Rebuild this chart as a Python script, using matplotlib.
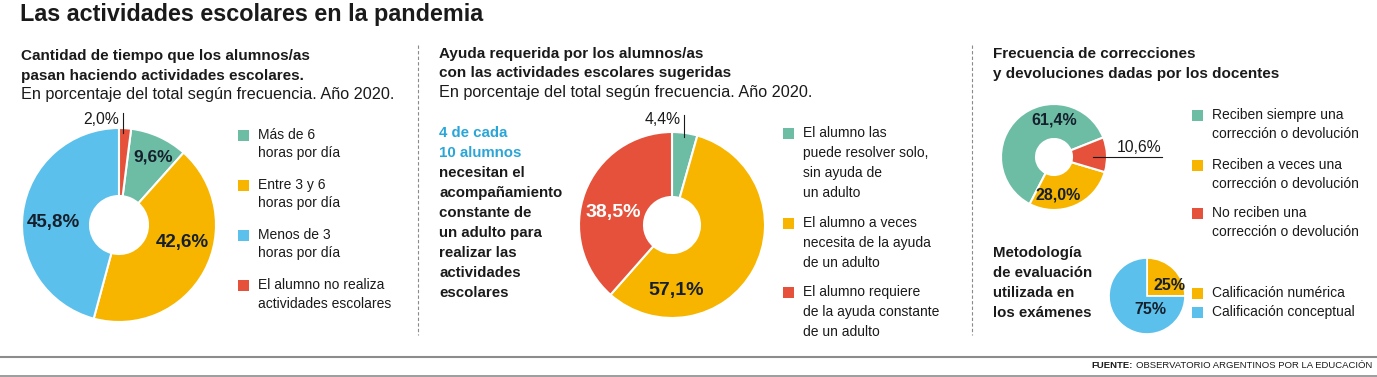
import matplotlib
matplotlib.use("Agg")
import matplotlib.pyplot as plt
from matplotlib.patches import Rectangle

W, H = 1377, 377

# colours
TEAL = "#6dbda5"
YELLOW = "#f7b500"
BLUE = "#5bc0eb"
RED = "#e5513a"
INK = "#1a1a1a"
DARK = "#16202c"

# chart 1: tiempo (legend order)
tiempo_labels = ["Más de 6\nhoras por día", "Entre 3 y 6\nhoras por día",
                 "Menos de 3\nhoras por día", "El alumno no realiza\nactividades escolares"]
tiempo_values = [9.6, 42.6, 45.8, 2.0]
tiempo_colors = [TEAL, YELLOW, BLUE, RED]

# chart 2: ayuda
ayuda_labels = ["El alumno las\npuede resolver solo,\nsin ayuda de\nun adulto",
                "El alumno a veces\nnecesita de la ayuda\nde un adulto",
                "El alumno requiere\nde la ayuda constante\nde un adulto"]
ayuda_values = [4.4, 57.1, 38.5]
ayuda_colors = [TEAL, YELLOW, RED]

# chart 3: correcciones
correc_labels = ["Reciben siempre una\ncorrección o devolución",
                 "Reciben a veces una\ncorrección o devolución",
                 "No reciben una\ncorrección o devolución"]
correc_values = [61.4, 28.0, 10.6]
correc_colors = [TEAL, YELLOW, RED]

# chart 4: metodologia
metodo_labels = ["Calificación numérica", "Calificación conceptual"]
metodo_values = [25, 75]
metodo_colors = [YELLOW, BLUE]

BOLD = "Liberation Sans"
REG = "Liberation Sans"


def Y(y):
    return H - y


def pct(v, dec=True):
    if dec:
        return ("%.1f%%" % v).replace(".", ",")
    return "%d%%" % v


fig = plt.figure(figsize=(W / 100, H / 100), dpi=100)
ax = fig.add_axes([0, 0, 1, 1])

# title
ax.text(20, Y(14), "Las actividades escolares en la pandemia", fontsize=16.8,
        fontweight="bold", family=BOLD, color=INK, va="center")


def header(x, y, bold_lines, sub=None, step=20):
    for i, l in enumerate(bold_lines):
        ax.text(x, Y(y + i * step), l, fontsize=11, fontweight="bold",
                family=BOLD, color=INK, va="center")
    if sub:
        ax.text(x, Y(y + len(bold_lines) * step - 1), sub, fontsize=11.7,
                family=REG, color=INK, va="center")


def legend(x, ys, labels, colors, step=18.5):
    for y0, lab, c in zip(ys, labels, colors):
        ax.add_patch(Rectangle((x, Y(y0) - 5.5), 11, 11, color=c, lw=0))
        for k, line in enumerate(lab.split("\n")):
            ax.text(x + 20, Y(y0 + k * step), line, fontsize=10,
                    family=REG, color=INK, va="center")


sub = "En porcentaje del total según frecuencia. Año 2020."

# ---- chart 1
header(21, 56, ["Cantidad de tiempo que los alumnos/as",
                "pasan haciendo actividades escolares."], sub)
ax.pie(tiempo_values, colors=tiempo_colors, center=(119, Y(225)), radius=97,
       startangle=90 - tiempo_values[3] * 3.6, counterclock=False,
       wedgeprops=dict(width=68, edgecolor="white", linewidth=1.5))
pos1 = [(153, 157), (182, 243), (53, 222)]
for (px, py), v in zip(pos1, tiempo_values[:3]):
    ax.text(px, Y(py), pct(v), fontsize=13.5 if v > 20 else 12.5, fontweight="bold",
            family=BOLD, color=DARK, ha="center", va="center")
ax.plot([123, 123], [Y(113), Y(133)], color=INK, lw=0.8)
ax.text(119, Y(119), pct(tiempo_values[3]), fontsize=11.3, family=REG,
        color=INK, ha="right", va="center")
legend(238, [135, 185, 235, 285], tiempo_labels, tiempo_colors)

# ---- chart 2
header(439, 54, ["Ayuda requerida por los alumnos/as",
                 "con las actividades escolares sugeridas"], sub, step=19.5)
side = ["4 de cada", "10 alumnos", "necesitan el", "acompañamiento", "constante de",
        "un adulto para", "realizar las", "actividades", "escolares"]
for i, l in enumerate(side):
    ax.text(439, Y(133 + i * 20), l, fontsize=10.8, fontweight="bold", family=BOLD,
            color="#2aa5d8" if i < 2 else INK, va="center")
ax.pie(ayuda_values, colors=ayuda_colors, center=(672, Y(225)), radius=93,
       startangle=90, counterclock=False,
       wedgeprops=dict(width=65, edgecolor="white", linewidth=1.5))
ax.text(676, Y(291), pct(ayuda_values[1]), fontsize=14, fontweight="bold",
        family=BOLD, color=DARK, ha="center", va="center")
ax.text(613, Y(213), pct(ayuda_values[2]), fontsize=14, fontweight="bold",
        family=BOLD, color="white", ha="center", va="center")
ax.plot([684, 684], [Y(115), Y(137)], color=INK, lw=0.8)
ax.text(681, Y(119), pct(ayuda_values[0]), fontsize=11.3, family=REG,
        color=INK, ha="right", va="center")
legend(783, [133, 223, 292], ayuda_labels, ayuda_colors, step=20)

# ---- chart 3
header(993, 54, ["Frecuencia de correcciones",
                 "y devoluciones dadas por los docentes"], None)
ax.pie(correc_values, colors=correc_colors, center=(1054, Y(157)), radius=53,
       startangle=21.6, counterclock=True,
       wedgeprops=dict(width=35, edgecolor="white", linewidth=1.5))
ax.text(1054, Y(120), pct(correc_values[0]), fontsize=11.5, fontweight="bold",
        family=BOLD, color=DARK, ha="center", va="center")
ax.text(1058, Y(195), pct(correc_values[1]), fontsize=11.5, fontweight="bold",
        family=BOLD, color=DARK, ha="center", va="center")
ax.plot([1093, 1162], [Y(157), Y(157)], color=INK, lw=0.8)
ax.text(1139, Y(148), pct(correc_values[2]), fontsize=11.3, family=REG,
        color=INK, ha="center", va="center")
legend(1192, [115, 165, 213], correc_labels, correc_colors, step=18.5)

# ---- chart 4
for i, l in enumerate(["Metodología", "de evaluación", "utilizada en", "los exámenes"]):
    ax.text(993, Y(253 + i * 20), l, fontsize=10.8, fontweight="bold", family=BOLD,
            color=INK, va="center")
ax.pie(metodo_values, colors=metodo_colors, center=(1147, Y(296)), radius=38,
       startangle=90, counterclock=False,
       wedgeprops=dict(edgecolor="white", linewidth=1.2))
ax.text(1170, Y(286), pct(metodo_values[0], False), fontsize=11.5, fontweight="bold",
        family=BOLD, color=DARK, ha="center", va="center")
ax.text(1150, Y(310), pct(metodo_values[1], False), fontsize=11.5, fontweight="bold",
        family=BOLD, color=DARK, ha="center", va="center")
legend(1192, [293, 312], metodo_labels, metodo_colors)

# dividers
for x in [418, 972]:
    ax.plot([x, x], [Y(45), Y(335)], color="#8a8a8a", lw=0.8, ls=(0, (3, 2)))
ax.plot([0, W], [Y(357), Y(357)], color="#8c8c8c", lw=1.5)
ax.plot([0, W], [Y(376), Y(376)], color="#8c8c8c", lw=1.2)

ax.set_xlim(0, W)
ax.set_ylim(0, H)
ax.set_aspect("auto")
ax.axis("off")

# source
src = ax.text(1372, Y(366), "OBSERVATORIO ARGENTINOS POR LA EDUCACIÓN", fontsize=6.8,
              family=REG, color=INK, ha="right", va="center")
fig.canvas.draw()
bb = src.get_window_extent(fig.canvas.get_renderer())
ax.text(bb.x0 - 3, Y(366), "FUENTE:", fontsize=6.8, fontweight="bold",
        family=BOLD, color=INK, ha="right", va="center")

fig.savefig("out.png", dpi=100, facecolor="white")
